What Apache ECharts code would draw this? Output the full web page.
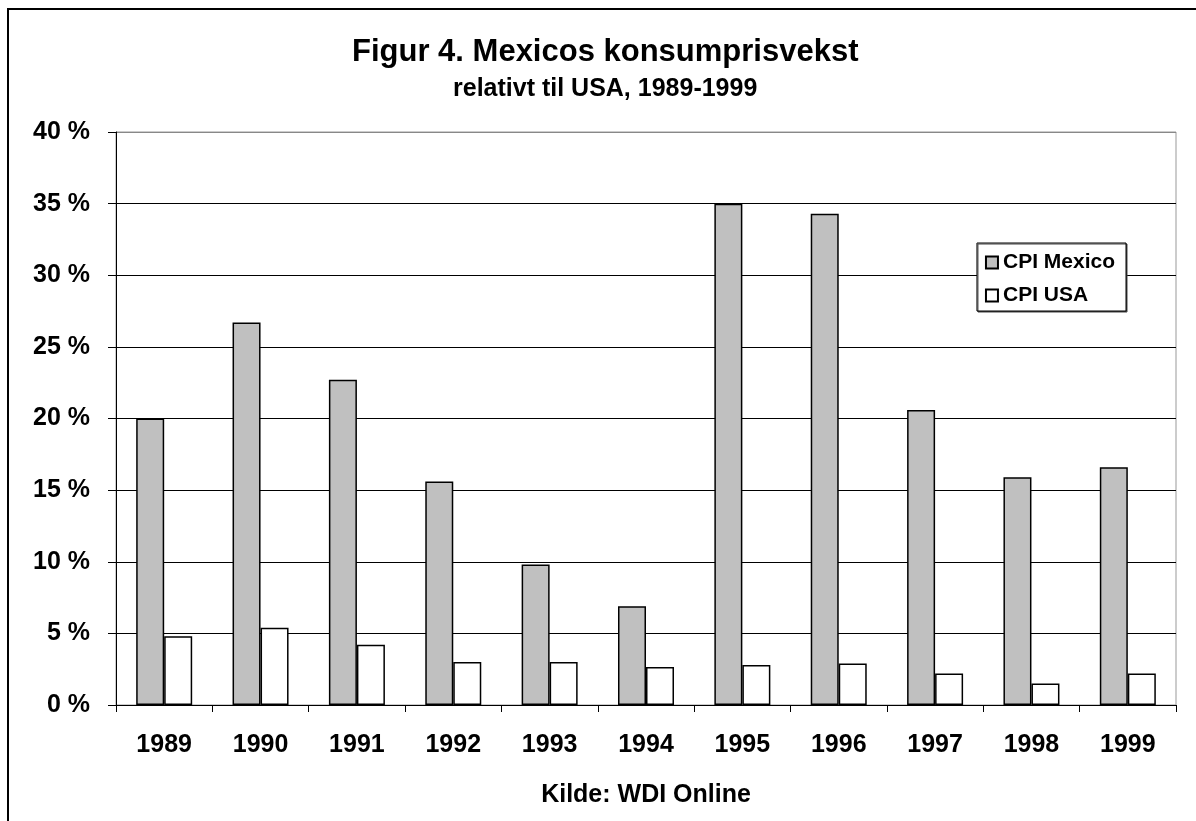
<!DOCTYPE html>
<html>
<head>
<meta charset="utf-8">
<script src="https://cdn.jsdelivr.net/npm/echarts@6/dist/echarts.min.js"></script>
<style>
  html, body { margin: 0; padding: 0; background: #fff; }
  #chart { width: 1196px; height: 821px; }
</style>
</head>
<body>
<div id="chart"></div>
<script>
// data
const years = ['1989', '1990', '1991', '1992', '1993', '1994', '1995', '1996', '1997', '1998', '1999'];
const cpiMexico = [20.0, 26.7, 22.7, 15.6, 9.8, 6.9, 35.0, 34.3, 20.6, 15.9, 16.6];
const cpiUsa = [4.8, 5.4, 4.2, 3.0, 3.0, 2.65, 2.8, 2.9, 2.2, 1.5, 2.2];
const yTicks = [0, 5, 10, 15, 20, 25, 30, 35, 40];

const font = '"Liberation Sans", Arial, sans-serif';
const chart = echarts.init(document.getElementById('chart'));

// gridlines black, the top one grey like the plot frame
const gridColors = yTicks.map((t, i) => i === yTicks.length - 1 ? '#888' : '#000');

const option = {
    animation: false,
    backgroundColor: '#fff',
    textStyle: { fontFamily: font },
    title: [
        {
            text: 'Figur 4. Mexicos konsumprisvekst',
            left: 352,
            top: 37,
            padding: 0,
            textStyle: { fontFamily: font, fontSize: 31, fontWeight: 'bold', color: '#000' }
        },
        {
            text: 'relativt til USA, 1989-1999',
            left: 453,
            top: 77,
            padding: 0,
            textStyle: { fontFamily: font, fontSize: 25, fontWeight: 'bold', color: '#000' }
        }
    ],
    legend: {
        right: 70,
        top: 243,
        orient: 'vertical',
        itemWidth: 12,
        itemHeight: 12,
        itemGap: 12,
        padding: [9, 11, 5, 8],
        borderColor: '#000',
        borderWidth: 1,
        shadowColor: '#444',
        shadowOffsetX: 1,
        shadowOffsetY: 1,
        backgroundColor: '#fff',
        icon: 'rect',
        textStyle: { fontFamily: font, fontSize: 21, fontWeight: 'bold', color: '#000' },
        data: ['CPI Mexico', 'CPI USA']
    },
    grid: {
        left: 116,
        right: 20,
        top: 132,
        bottom: 116,
        show: true,
        borderColor: '#999',
        borderWidth: 1
    },
    xAxis: {
        type: 'category',
        data: years,
        name: 'Kilde: WDI Online',
        nameLocation: 'middle',
        nameGap: 78,
        nameTextStyle: { fontFamily: font, fontSize: 25, fontWeight: 'bold', color: '#000' },
        axisLine: { lineStyle: { color: '#000', width: 1 } },
        axisTick: { show: true, alignWithLabel: false, length: 7, lineStyle: { color: '#000' } },
        axisLabel: { margin: 28, fontFamily: font, fontSize: 25, fontWeight: 'bold', color: '#000' }
    },
    yAxis: {
        type: 'value',
        min: yTicks[0],
        max: yTicks[yTicks.length - 1],
        interval: 5,
        axisLine: { show: true, lineStyle: { color: '#000', width: 1 } },
        axisTick: { show: true, length: 8, lineStyle: { color: '#000' } },
        splitLine: { show: true, lineStyle: { color: gridColors, width: 1 } },
        axisLabel: {
            margin: 26,
            fontFamily: font, fontSize: 25, fontWeight: 'bold', color: '#000',
            formatter: v => v + ' %'
        }
    },
    series: [
        {
            name: 'CPI Mexico',
            type: 'bar',
            data: cpiMexico,
            barWidth: 28,
            barGap: '0%',
            itemStyle: { color: '#c0c0c0', borderColor: '#000', borderWidth: 1.5 }
        },
        {
            name: 'CPI USA',
            type: 'bar',
            data: cpiUsa,
            barWidth: 28,
            barGap: '0%',
            itemStyle: { color: '#fff', borderColor: '#000', borderWidth: 1.5 }
        }
    ],
    graphic: [
        {
            type: 'rect',
            shape: { x: 8, y: 9, width: 1250, height: 900 },
            style: { fill: null, stroke: '#000', lineWidth: 2 },
            silent: true
        }
    ]
};

chart.setOption(option);
window.addEventListener('resize', function () { chart.resize(); });
</script>
</body>
</html>
